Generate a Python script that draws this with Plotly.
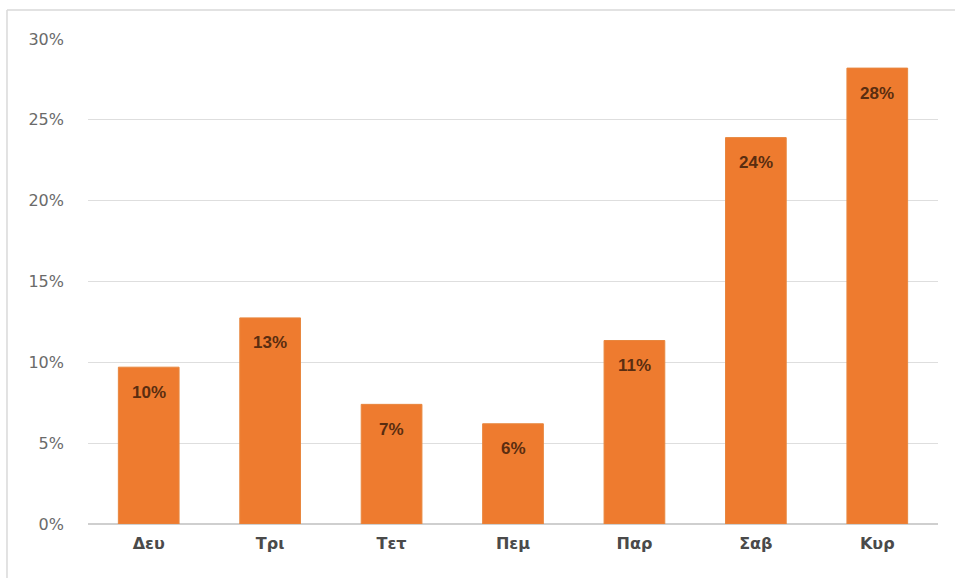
import plotly.graph_objects as go

days = ["Δευ", "Τρι", "Τετ", "Πεμ", "Παρ", "Σαβ", "Κυρ"]
values = [9.7, 12.75, 7.4, 6.2, 11.35, 23.9, 28.2]
labels = ["10%", "13%", "7%", "6%", "11%", "24%", "28%"]
tick_vals = [0, 5, 10, 15, 20, 25, 30]
tick_text = ["0%", "5%", "10%", "15%", "20%", "25%", "30%"]

fig = go.Figure(go.Bar(
    x=days, y=values,
    marker=dict(color="#EE7B2F", line=dict(color="#E8873F", width=1)),
    width=0.5,
    hoverinfo="skip",
))

for d, v, t in zip(days, values, labels):
    fig.add_annotation(
        x=d, y=v, text="<b>" + t + "</b>", showarrow=False,
        yanchor="middle", yshift=-25,
        font=dict(family="Liberation Sans, Arial", size=17, color="#5a2d10"),
    )

fig.update_layout(
    width=955, height=578,
    margin=dict(l=88, r=17, t=39, b=54),
    paper_bgcolor="white", plot_bgcolor="white",
    showlegend=False,
    xaxis=dict(
        showgrid=False, showline=False, zeroline=False, ticks="",
        tickfont=dict(family="DejaVu Sans", size=16, color="#4a4a4a", weight="bold"),
        ticklabelstandoff=8,
    ),
    yaxis=dict(
        range=[0, 30], tickvals=tick_vals, ticktext=tick_text,
        showgrid=True, gridcolor="#dedede", gridwidth=1,
        zeroline=True, zerolinecolor="#cfcfcf", zerolinewidth=1.5,
        showline=False, ticks="",
        tickfont=dict(family="DejaVu Sans", size=16, color="#6a6a6a"),
        ticklabelstandoff=23,
    ),
    shapes=[
        dict(type="line", xref="paper", yref="paper",
             x0=-0.0953, x1=1.03, y0=1.0598, y1=1.0598,
             line=dict(color="#d9d9d9", width=1.5)),
        dict(type="line", xref="paper", yref="paper",
             x0=-0.0953, x1=-0.0953, y0=1.0598, y1=-0.12,
             line=dict(color="#d9d9d9", width=1.5)),
    ],
)

fig.write_html("out.html")
